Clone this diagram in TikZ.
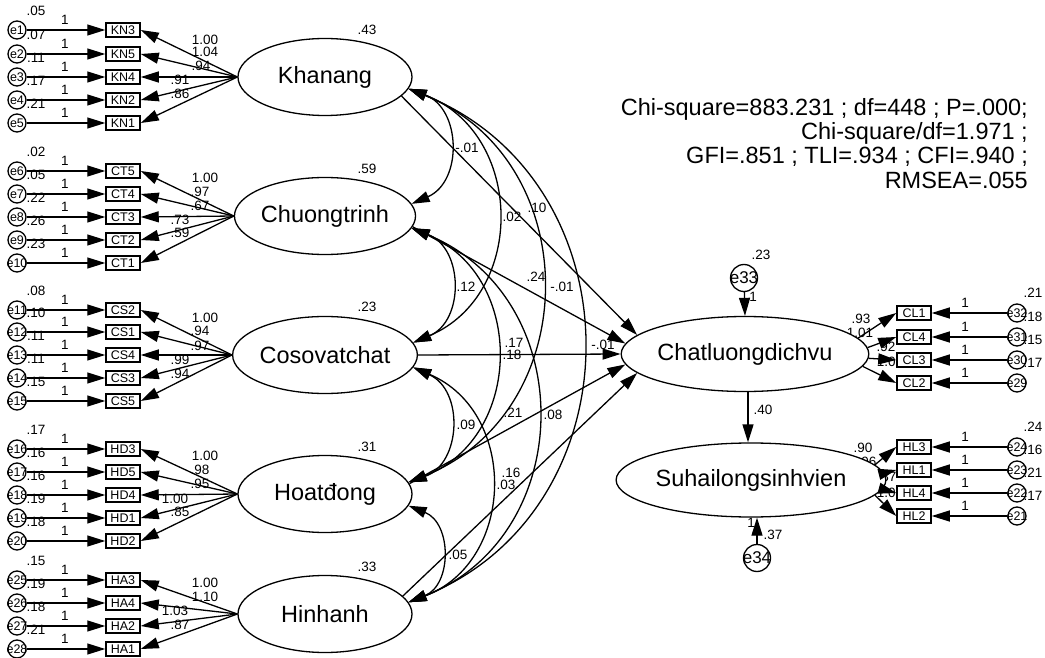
\documentclass[tikz,border=0pt]{standalone}
\usepackage{fontspec}
\setmainfont{Liberation Sans}
\usetikzlibrary{shapes.geometric,arrows.meta}
\begin{document}
\begin{tikzpicture}[x=1pt,y=-1pt,
  lat/.style={ellipse,draw,line width=1.3pt,minimum width=174pt,minimum height=77pt,inner sep=0pt,fill=white,font=\fontsize{23.5}{26}\selectfont},
  latw/.style={lat,minimum width=214pt,minimum height=75pt},
  obs/.style={rectangle,draw,line width=1.5pt,minimum width=34pt,minimum height=14pt,inner sep=0pt,fill=white,font=\fontsize{12.5}{13}\selectfont},
  err/.style={circle,draw,line width=1.3pt,minimum size=18pt,inner sep=0pt,fill=white},
  errbig/.style={circle,draw,line width=1.3pt,minimum size=27pt,inner sep=0pt,fill=white},
  elab/.style={font=\fontsize{12.5}{13}\selectfont,inner sep=0pt},
  ebig/.style={font=\fontsize{17}{18}\selectfont,inner sep=0pt},
  lab/.style={font=\fontsize{13.5}{14}\selectfont,inner sep=0pt},
  fittext/.style={font=\fontsize{23.5}{26}\selectfont,inner sep=0pt,anchor=base east},
  arr/.style={line width=1.3pt,-{Triangle[length=18pt,width=11pt]}},
  cov/.style={line width=1.3pt,{Triangle[length=18pt,width=11pt]}-{Triangle[length=18pt,width=11pt]}}
]
\useasboundingbox (0,0) rectangle (1045,658);

% ---------- labels (drawn first, under the shapes) ----------
\node[lab] (vkn) at (367,30) {.43};
\node[lab] (vct) at (367,169) {.59};
\node[lab] (vcs) at (367,307) {.23};
\node[lab] (vhd) at (367,447) {.31};
\node[lab] (vha) at (367,567) {.33};

\foreach \i/\y/\v in {1/30/.05,2/54/.07,3/77/.11,4/100/.17,5/123/.21,
  6/171/.02,7/194/.05,8/217/.22,9/240/.26,10/263/.23,
  11/310/.08,12/332/.10,13/355/.11,14/378/.11,15/401/.15,
  16/449/.17,17/472/.16,18/495/.16,19/518/.19,20/541/.18,
  25/580/.15,26/603/.19,27/626/.18,28/649/.21}
  \node[lab] (ve\i) at (36,\y-19) {\v};

\foreach \i/\y/\v in {32/313/.21,31/337/.18,30/360/.15,29/383/.17,
  24/447/.24,23/470/.16,22/493/.21,21/516/.17}
  \node[lab] (ve\i) at (1033,\y-20) {\v};

\foreach \x/\y/\t [count=\k] in {205/40/1.00,205/52/1.04,201/66/.94,180/80/.91,180/94/.86,
  205/178/1.00,200/192/.97,200/206/.67,180/220/.73,180/233/.59,
  205/318/1.00,200/331/.94,200/346/.97,180/360/.99,180/374/.94,
  205/456/1.00,200/470/.98,200/484/.95,175/499/1.00,180/512/.85,
  205/583/1.00,205/597/1.10,175/611/1.03,180/625/.87,
  861/319/.93,860/333/1.01,886/347/.92,890/362/1.00,
  863/448/.90,867/462/.96,887/477/.87,890/493/1.00,
  467/148/-.01,512/217/.02,537/208/.10,536/277/.24,562/287/-.01,
  466/287/.12,603/345/-.01,514/343/.17,512/355/.18,513/413/.21,
  553/415/.08,466/425/.09,511/473/.16,506/485/.03,458/555/.05,
  763/410/.40,761/255/.23,753/297/1,751/523/1,773/535/.37}
  \node[lab] (ll\k) at (\x,\y) {\t};

% ---------- fit indices ----------
\node[fittext] (fit1) at (1028,116) {Chi-square=883.231 ; df=448 ; P=.000;};
\node[fittext] (fit2) at (1028,140) {Chi-square/df=1.971 ;};
\node[fittext] (fit3) at (1028,164) {GFI=.851 ; TLI=.934 ; CFI=.940 ;};
\node[fittext] (fit4) at (1028,189) {RMSEA=.055};

% ---------- latent variables ----------
\node[lat] (kn) at (325,77) {Khanang};
\node[lat] (ct) at (325,216) {Chuongtrinh};
\node[lat] (cs) at (325,355) {Cosovatchat};
\node[lat] (hd) at (325,494) {Hoatđong};
\node[lat] (ha) at (325,614) {Hinhanh};
\node[latw,minimum width=216pt] (cl) at (745,354) {Chatluongdichvu};
\node[latw,minimum width=211pt,minimum height=74pt] (sl) at (751,480) {Suhailongsinhvien};

% ---------- left indicators ----------
\foreach \i/\y/\b/\f in {1/30/KN3/kn,2/54/KN5/kn,3/77/KN4/kn,4/100/KN2/kn,5/123/KN1/kn,
  6/171/CT5/ct,7/194/CT4/ct,8/217/CT3/ct,9/240/CT2/ct,10/263/CT1/ct,
  11/310/CS2/cs,12/332/CS1/cs,13/355/CS4/cs,14/378/CS3/cs,15/401/CS5/cs,
  16/449/HD3/hd,17/472/HD5/hd,18/495/HD4/hd,19/518/HD1/hd,20/541/HD2/hd,
  25/580/HA3/ha,26/603/HA4/ha,27/626/HA2/ha,28/649/HA1/ha}
{
  \node[lab] (one\i) at (65,\y-10) {1};
  \node[err,label={[elab]center:e\i}] (e\i) at (17,\y) {};
  \node[obs] (\b) at (123,\y) {\b};
  \draw[arr] (e\i) -- (\b);
  \draw[arr] (\f.west) -- (\b.east);
}

% ---------- right indicators ----------
\foreach \i/\y/\b/\f/\a in {32/313/CL1/cl/8,31/337/CL4/cl/3,30/360/CL3/cl/-2,29/383/CL2/cl/-6,
  24/447/HL3/sl/7,23/470/HL1/sl/3,22/493/HL4/sl/-4,21/516/HL2/sl/-7}
{
  \node[lab] (one\i) at (965,\y-10) {1};
  \node[err,label={[elab]center:e\i}] (e\i) at (1017,\y) {};
  \node[obs] (\b) at (914,\y) {\b};
  \draw[arr] (e\i) -- (\b);
  \draw[arr] (\f.\a) -- (\b.west);
}

% ---------- disturbances ----------
\node[errbig,label={[ebig]center:e33}] (e33) at (744,278) {};
\node[errbig,label={[ebig]center:e34}] (e34) at (757,558) {};
\draw[arr] (e33) -- (cl.north);
\draw[arr] (e34.north) -- ([xshift=6pt]sl.south);
\draw[arr] ([xshift=3pt]cl.south) -- ([xshift=-3pt]sl.north);

% ---------- structural paths ----------
\draw[arr] (kn.-14) -- (cl.170);
\draw[arr] (ct.-7) -- (cl.175);
\draw[arr] (cs.east) -- (cl.180);
\draw[arr] (hd.7) -- (cl.185);
\draw[arr] (ha.13) -- (cl.190);

% ---------- covariances ----------
\foreach \a/\b in {kn/ct,kn/cs,kn/hd,kn/ha,ct/cs,ct/hd,ct/ha,cs/hd,cs/ha,hd/ha}
  \draw[cov] (\a.-8) to[bend left=68,looseness=1.245] (\b.8);
\end{tikzpicture}
\end{document}
